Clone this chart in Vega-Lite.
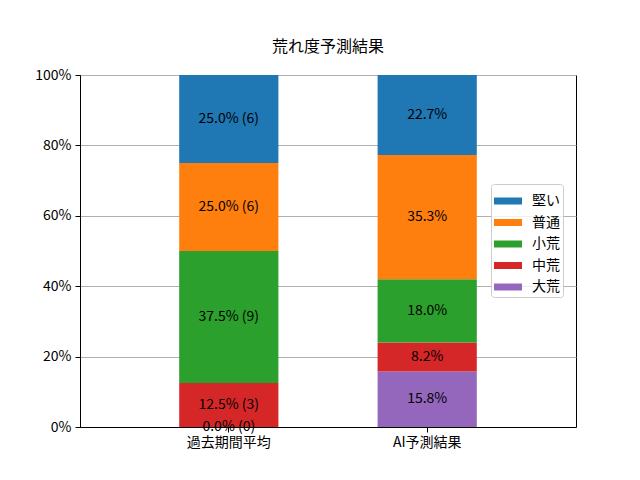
{
  "$schema": "https://vega.github.io/schema/vega-lite/v6.json",
  "description": "荒れ度予測結果: stacked percentage bars, past average vs AI prediction.",
  "autosize": {"type": "none"},
  "width": 496,
  "height": 352,
  "padding": {"left": 80, "top": 75, "right": 64, "bottom": 53},
  "background": "white",
  "title": {
    "text": "荒れ度予測結果",
    "fontSize": 16,
    "fontWeight": "normal",
    "font": "Noto Sans CJK JP",
    "color": "black",
    "anchor": "middle",
    "baseline": "alphabetic",
    "offset": 0
  },
  "data": {
    "values": [
      {"group": "過去期間平均", "level": "大荒", "rank": 0, "pct": 0.0, "label": "0.0% (0)"},
      {"group": "過去期間平均", "level": "中荒", "rank": 1, "pct": 12.5, "label": "12.5% (3)"},
      {"group": "過去期間平均", "level": "小荒", "rank": 2, "pct": 37.5, "label": "37.5% (9)"},
      {"group": "過去期間平均", "level": "普通", "rank": 3, "pct": 25.0, "label": "25.0% (6)"},
      {"group": "過去期間平均", "level": "堅い", "rank": 4, "pct": 25.0, "label": "25.0% (6)"},
      {"group": "AI予測結果", "level": "大荒", "rank": 0, "pct": 15.8, "label": "15.8%"},
      {"group": "AI予測結果", "level": "中荒", "rank": 1, "pct": 8.2, "label": "8.2%"},
      {"group": "AI予測結果", "level": "小荒", "rank": 2, "pct": 18.0, "label": "18.0%"},
      {"group": "AI予測結果", "level": "普通", "rank": 3, "pct": 35.3, "label": "35.3%"},
      {"group": "AI予測結果", "level": "堅い", "rank": 4, "pct": 22.7, "label": "22.7%"}
    ]
  },
  "transform": [
    {
      "stack": "pct",
      "groupby": ["group"],
      "sort": [{"field": "rank", "order": "ascending"}],
      "as": ["lo", "hi"]
    },
    {"calculate": "(datum.lo + datum.hi) / 2", "as": "mid"}
  ],
  "encoding": {
    "x": {
      "field": "group",
      "type": "nominal",
      "sort": null,
      "title": null,
      "scale": {"paddingInner": 0.5, "paddingOuter": 0.5},
      "axis": {
        "labelAngle": 0,
        "labelFontSize": 14,
        "labelFont": "Noto Sans CJK JP",
        "labelColor": "black",
        "labelPadding": 3,
        "tickSize": 5,
        "tickColor": "black",
        "domainColor": "black",
        "grid": false
      }
    }
  },
  "layer": [
    {
      "mark": {"type": "bar"},
      "encoding": {
        "y": {
          "field": "lo",
          "type": "quantitative",
          "title": null,
          "scale": {"domain": [0, 100], "nice": false},
          "axis": {
            "values": [0, 20, 40, 60, 80, 100],
            "labelExpr": "datum.value + '%'",
            "labelFontSize": 14,
            "labelFont": "Noto Sans CJK JP",
            "labelColor": "black",
            "labelPadding": 4,
            "tickSize": 5,
            "tickColor": "black",
            "domainColor": "black",
            "grid": true,
            "gridColor": "#b0b0b0",
            "gridWidth": 1
          }
        },
        "y2": {"field": "hi"},
        "color": {
          "field": "level",
          "type": "nominal",
          "scale": {
            "domain": ["堅い", "普通", "小荒", "中荒", "大荒"],
            "range": ["#1f77b4", "#ff7f0e", "#2ca02c", "#d62728", "#9467bd"]
          },
          "legend": {
            "title": null,
            "orient": "none",
            "legendX": 411,
            "legendY": 109,
            "symbolType": "M-1,-0.25H1V0.25H-1Z",
            "symbolSize": 784,
            "symbolStrokeWidth": 0,
            "symbolOpacity": 1,
            "labelFontSize": 14,
            "labelFont": "Noto Sans CJK JP",
            "labelColor": "black",
            "labelOffset": 10,
            "rowPadding": 0.5,
            "padding": 3,
            "fillColor": "rgba(255,255,255,0.8)",
            "strokeColor": "#cccccc",
            "cornerRadius": 3
          }
        }
      }
    },
    {
      "mark": {
        "type": "text",
        "fontSize": 14,
        "font": "Noto Sans CJK JP",
        "color": "black",
        "baseline": "middle",
        "align": "center"
      },
      "encoding": {
        "y": {"field": "mid", "type": "quantitative"},
        "text": {"field": "label"}
      }
    }
  ],
  "config": {
    "view": {"stroke": "black", "strokeWidth": 1}
  }
}
